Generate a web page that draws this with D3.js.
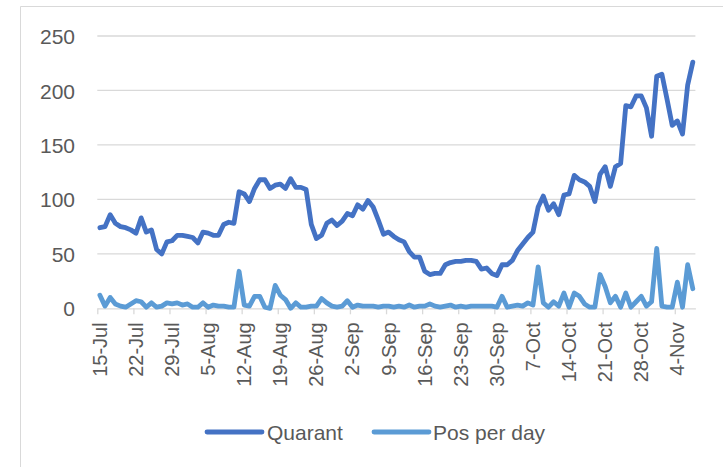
<!DOCTYPE html>
<html><head><meta charset="utf-8">
<script src="https://cdn.jsdelivr.net/npm/d3@7"></script>
<style>
html,body{margin:0;padding:0;background:#fff;}
svg{display:block;}
text{font-family:"Liberation Sans",Arial,sans-serif;fill:#595959;}
</style></head>
<body>
<svg id="chart" width="723" height="467"></svg>
<script>
const startDate = "2020-07-15";
const dayCount = 116;
const tickLabels = ["15-Jul","22-Jul","29-Jul","5-Aug","12-Aug","19-Aug","26-Aug","2-Sep","9-Sep","16-Sep","23-Sep","30-Sep","7-Oct","14-Oct","21-Oct","28-Oct","4-Nov"];
const yTicks = [0,50,100,150,200,250];
const seriesNames = ["Quarant","Pos per day"];
const quarant = [74,75,86,78,75,74,72,69,83,70,
  72,54,50,61,62,67,67,66,65,60,
  70,69,67,67,77,79,78,107,105,98,
  110,118,118,110,113,114,110,119,111,111,
  109,77,64,67,78,81,76,80,87,85,
  95,91,99,93,81,68,70,66,63,61,
  52,47,47,34,31,32,32,40,42,43,
  43,44,44,43,36,37,32,30,40,40,
  44,53,59,65,70,93,103,90,96,86,
  104,105,122,118,116,112,98,123,130,112,
  130,133,186,185,195,195,184,158,213,215,
  192,168,172,160,205,226];
const posPerDay = [12,2,10,4,2,1,4,7,6,1,
  5,1,2,5,4,5,3,4,1,1,
  5,1,3,2,2,1,1,34,3,2,
  11,11,1,0,21,12,8,0,5,1,
  1,2,2,9,5,2,1,2,7,1,
  3,2,2,2,1,2,2,1,2,1,
  3,1,2,2,4,2,1,2,3,1,
  2,1,2,2,2,2,2,1,11,1,
  2,3,2,5,3,38,5,1,6,2,
  14,1,14,11,4,1,1,31,20,5,
  11,1,14,1,6,11,2,6,55,2,
  1,1,24,1,40,18];
const colors = ["#4472C4","#5B9BD5"];

const parse = d3.timeParse("%Y-%m-%d");
const d0 = parse(startDate);
const days = d3.timeDay.range(d0, d3.timeDay.offset(d0, dayCount));
const tickDates = tickLabels.map((_, i) => d3.timeDay.offset(d0, i * 7));

const svg = d3.select("#chart");

// chart frame
svg.append("path").attr("d", "M20.5,467 V6.5 H723").attr("fill","none").attr("stroke","#d9d9d9").attr("stroke-width",1);

const x = d3.scaleTime().domain([d0, d3.timeDay.offset(d0, dayCount)]).range([97.3, 695.4]);
const y = d3.scaleLinear().domain([0, 250]).range([308.3, 36]);
const mid = d => d3.timeHour.offset(d, 12);

// gridlines
svg.append("g").selectAll("line").data(yTicks.filter(v => v > 0)).join("line")
  .attr("x1", x.range()[0]).attr("x2", x.range()[1])
  .attr("y1", d => y(d)).attr("y2", d => y(d))
  .attr("stroke", "#d9d9d9").attr("stroke-width", 1.3);

// y axis labels
const yAxis = d3.axisLeft(y).tickValues(yTicks).tickSize(0).tickPadding(0);
const gy = svg.append("g").attr("transform", "translate(75,0)").call(yAxis);
gy.select(".domain").remove();
gy.selectAll("text").style("font-size", "21px").attr("fill", "#595959").attr("dy", "0.36em");

// x axis
const xAxis = d3.axisBottom(x).tickValues(tickDates).tickFormat((d, i) => tickLabels[i]).tickSize(6).tickSizeOuter(0);
const gx = svg.append("g").attr("transform", `translate(0,${y(0)})`).call(xAxis);
gx.select(".domain").attr("stroke", "#d9d9d9").attr("stroke-width", 1.3);
gx.selectAll(".tick line").attr("stroke", "#d9d9d9").attr("stroke-width", 1.3);
gx.selectAll("text")
  .style("font-size", "20px").attr("fill", "#595959")
  .attr("text-anchor", "end")
  .attr("transform", "translate(0,14) rotate(-90)")
  .attr("x", 0).attr("y", 0).attr("dy", "0.45em");

// lines
const series = [quarant, posPerDay];
const line = d3.line().x((d, i) => x(mid(days[i]))).y(d => y(d));
svg.append("g").selectAll("path").data(series).join("path")
  .attr("d", line).attr("fill", "none")
  .attr("stroke", (d, i) => colors[i]).attr("stroke-width", 4.8)
  .attr("stroke-linejoin", "round").attr("stroke-linecap", "round");

// legend
const legendItems = [{x: 207, tx: 267}, {x: 374, tx: 433}];
const lg = svg.append("g");
legendItems.forEach((p, i) => {
  lg.append("line").attr("x1", p.x).attr("x2", p.x + 55).attr("y1", 432).attr("y2", 432)
    .attr("stroke", colors[i]).attr("stroke-width", 4.8).attr("stroke-linecap", "round");
  lg.append("text").attr("x", p.tx).attr("y", 432).attr("dy", "0.36em")
    .style("font-size", "21px").attr("fill", "#595959").text(seriesNames[i]);
});
</script>
</body></html>
